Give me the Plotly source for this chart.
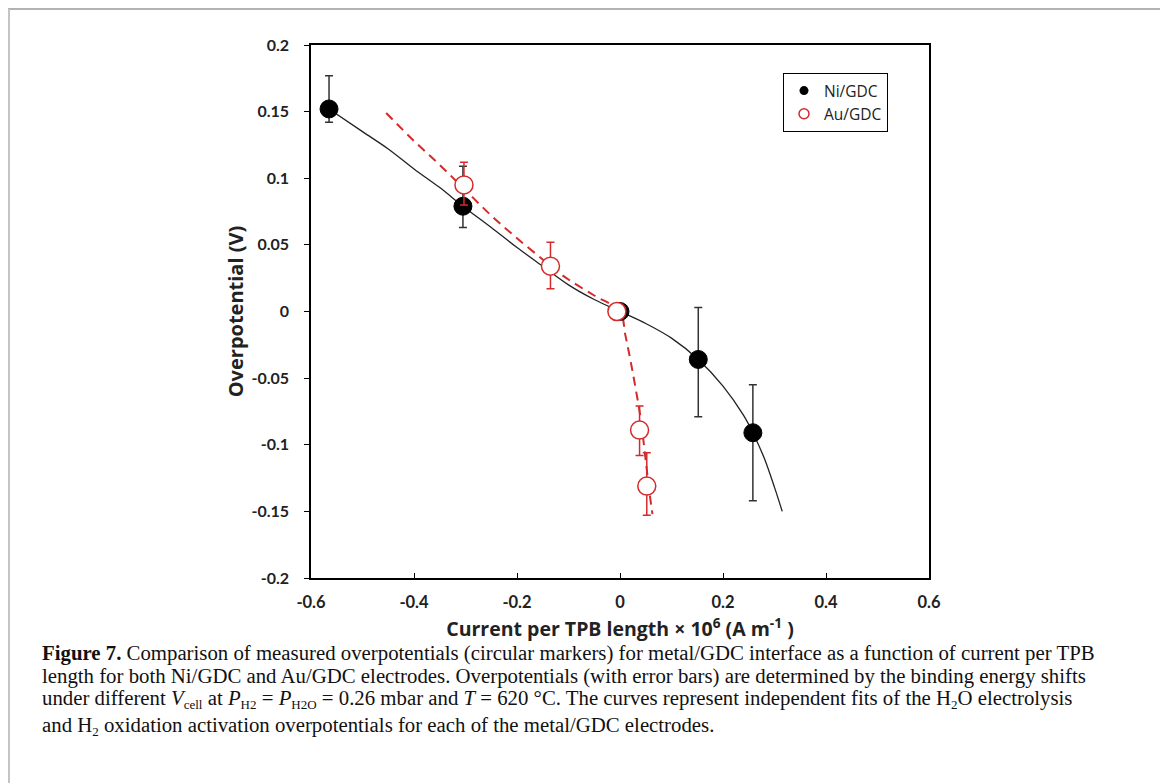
import plotly.graph_objects as go

# ---- data ----
ni_x = [-0.565, -0.305, 0.0, 0.152, 0.258]
ni_y = [0.152, 0.079, 0.0, -0.036, -0.091]
ni_err_plus = [0.025, 0.030, 0.0, 0.039, 0.036]
ni_err_minus = [0.010, 0.016, 0.0, 0.043, 0.051]

au_x = [-0.303, -0.135, -0.006, 0.038, 0.052]
au_y = [0.095, 0.034, 0.0, -0.089, -0.131]
au_err_plus = [0.017, 0.018, 0.0, 0.018, 0.025]
au_err_minus = [0.015, 0.017, 0.0, 0.019, 0.022]

ni_fit_x = [-0.565, -0.50, -0.45, -0.40, -0.35, -0.305, -0.25, -0.20, -0.15, -0.10,
            -0.05, 0.0, 0.05, 0.10, 0.152, 0.20, 0.24, 0.258, 0.28, 0.30, 0.315]
ni_fit_y = [0.152, 0.135, 0.122, 0.107, 0.093, 0.079, 0.063, 0.048, 0.034, 0.020,
            0.009, 0.0, -0.009, -0.020, -0.036, -0.056, -0.078, -0.091, -0.110, -0.132, -0.150]

au_fit_x = [-0.454, -0.40, -0.35, -0.30, -0.25, -0.20, -0.15, -0.135, -0.10, -0.05,
            0.0, 0.01, 0.02, 0.03, 0.04, 0.05, 0.058, 0.063]
au_fit_y = [0.149, 0.128, 0.110, 0.091, 0.072, 0.055, 0.039, 0.034, 0.024, 0.012,
            0.0, -0.017, -0.036, -0.057, -0.080, -0.112, -0.138, -0.152]

x_ticks = [-0.6, -0.4, -0.2, 0, 0.2, 0.4, 0.6]
x_tick_labels = ["-0.6", "-0.4", "-0.2", "0", "0.2", "0.4", "0.6"]
y_ticks = [-0.2, -0.15, -0.1, -0.05, 0, 0.05, 0.1, 0.15, 0.2]
y_tick_labels = ["-0.2", "-0.15", "-0.1", "-0.05", "0", "0.05", "0.1", "0.15", "0.2"]


def sub(t):
    return '<sub><span style="font-size:13px">%s</span></sub>' % t


caption_lines = [
    "<b>Figure 7.</b> Comparison of measured overpotentials (circular markers) for metal/GDC interface as a function of current per TPB",
    "length for both Ni/GDC and Au/GDC electrodes. Overpotentials (with error bars) are determined by the binding energy shifts",
    "under different <i>V</i>" + sub("cell") + " at <i>P</i>" + sub("H2") + " = <i>P</i>" + sub("H2O")
    + " = 0.26 mbar and <i>T</i> = 620 °C. The curves represent independent fits of the H" + sub("2")
    + "O electrolysis",
    "and H" + sub("2") + " oxidation activation overpotentials for each of the metal/GDC electrodes.",
]

# ---- layout geometry (page pixels; page body has an 8 px offset) ----
OFF = 8
W, H = 1168 - OFF, 783 - OFF
L, R, T, B = 311, 929, 45, 578
pw, ph = R - L, B - T
RED = "#d42a2a"


def px(x):
    return (x - L) / pw


def py(y):
    return (B - y) / ph


fig = go.Figure()

fig.add_trace(go.Scatter(x=ni_fit_x, y=ni_fit_y, mode="lines",
                         line=dict(color="#222222", width=1.3, shape="spline"),
                         showlegend=False, hoverinfo="skip"))
fig.add_trace(go.Scatter(x=au_fit_x, y=au_fit_y, mode="lines",
                         line=dict(color=RED, width=2, dash="9px,6px", shape="spline"),
                         showlegend=False, hoverinfo="skip"))

fig.add_trace(go.Scatter(
    x=ni_x, y=ni_y, mode="markers", name="Ni/GDC", showlegend=False,
    marker=dict(size=18, color="black", line=dict(color="black", width=1)),
    error_y=dict(type="data", symmetric=False, array=ni_err_plus, arrayminus=ni_err_minus,
                 color="#333333", thickness=1.5, width=4),
))
fig.add_trace(go.Scatter(
    x=au_x, y=au_y, mode="markers", name="Au/GDC", showlegend=False,
    marker=dict(size=18, color="white", line=dict(color=RED, width=1.5)),
    error_y=dict(type="data", symmetric=False, array=au_err_plus, arrayminus=au_err_minus,
                 color=RED, thickness=1.5, width=4),
))

# legend entries with small symbols, as in the reference
fig.add_trace(go.Scatter(x=[None], y=[None], mode="markers", name="Ni/GDC",
                         marker=dict(size=9, color="black")))
fig.add_trace(go.Scatter(x=[None], y=[None], mode="markers", name="Au/GDC",
                         marker=dict(size=10, color="white", line=dict(color=RED, width=1.5))))

annotations = []
caption_y = [652.5, 676, 698.5, 725.5]
for line, yy in zip(caption_lines, caption_y):
    annotations.append(dict(
        text=line, xref="paper", yref="paper", x=px(40), y=py(yy),
        xanchor="left", yanchor="middle", showarrow=False, align="left",
        font=dict(family="Liberation Serif", size=20.8, color="#111111"),
    ))

shapes = [
    dict(type="line", xref="paper", yref="paper", x0=px(8), x1=px(1163), y0=py(9), y1=py(9),
         line=dict(color="#999999", width=1.5)),
    dict(type="line", xref="paper", yref="paper", x0=px(9), x1=px(9), y0=py(9), y1=py(800),
         line=dict(color="#c4c4c4", width=2)),
    dict(type="line", xref="paper", yref="paper", x0=px(1163), x1=px(1163), y0=py(9), y1=py(800),
         line=dict(color="#c4c4c4", width=1.5)),
]

fig.update_layout(
    width=W, height=H,
    margin=dict(l=L - OFF, r=W - (R - OFF), t=T - OFF, b=H - (B - OFF)),
    paper_bgcolor="white", plot_bgcolor="white",
    font=dict(family="Lato", color="#222222"),
    legend=dict(x=px(783), y=py(73), xanchor="left", yanchor="top",
                bordercolor="black", borderwidth=1, bgcolor="white",
                font=dict(family="Open Sans", size=15.5, color="#222222"),
                itemsizing="trace", tracegroupgap=2),
    annotations=annotations,
    shapes=shapes,
)

fig.update_xaxes(range=[-0.6, 0.6], tickvals=x_ticks,
                 ticktext=["<b>%s</b>" % t for t in x_tick_labels],
                 showline=True, linecolor="black", linewidth=1.5, mirror=True,
                 ticks="inside", ticklen=5, tickcolor="black", showgrid=False, zeroline=False,
                 ticklabelstandoff=8,
                 tickfont=dict(family="Lato", size=16.5, color="#222222"),
                 title=dict(text="<b>Current per TPB length × 10<sup>6</sup> (A m<sup>-1</sup> )</b>",
                            font=dict(family="Open Sans", size=19.5, color="#222222"), standoff=12))
fig.update_yaxes(range=[-0.2, 0.2], tickvals=y_ticks,
                 ticktext=["<b>%s</b>" % t for t in y_tick_labels],
                 showline=True, linecolor="black", linewidth=1.5, mirror=True,
                 ticks="outside", ticklen=5, tickcolor="black", showgrid=False, zeroline=False,
                 ticklabelstandoff=12,
                 tickfont=dict(family="Lato", size=16, color="#222222"),
                 title=dict(text="<b>Overpotential (V)</b>",
                            font=dict(family="Open Sans", size=20, color="#222222"), standoff=2))

fig.write_html("out.html")
